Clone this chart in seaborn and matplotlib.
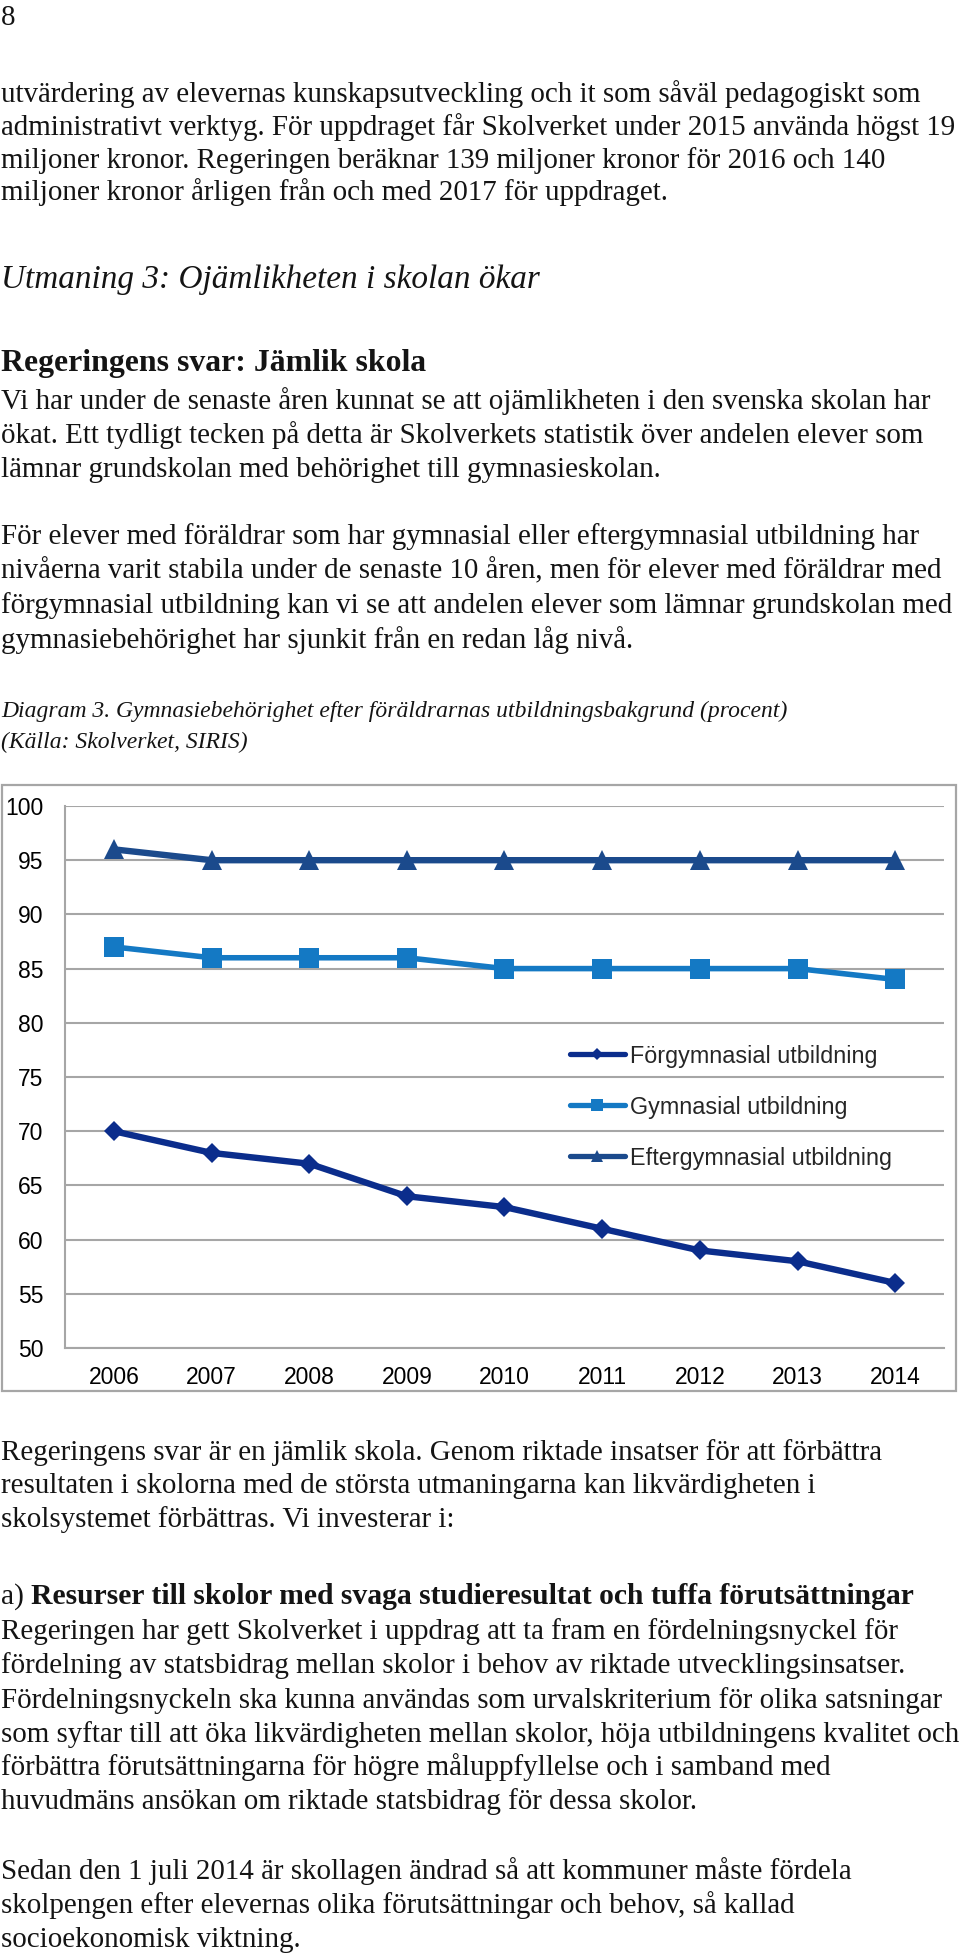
import numpy as np
import pandas as pd
import matplotlib
matplotlib.use("Agg")
import matplotlib.pyplot as plt
import seaborn as sns
from matplotlib.lines import Line2D
from matplotlib.patches import Rectangle

# --- chart data ---
years = ["2006", "2007", "2008", "2009", "2010", "2011", "2012", "2013", "2014"]
forgymnasial = [70, 68, 67, 64, 63, 61, 59, 58, 56]
gymnasial = [87, 86, 86, 86, 85, 85, 85, 85, 84]
eftergymnasial = [96, 95, 95, 95, 95, 95, 95, 95, 95]
series_names = ["Förgymnasial utbildning", "Gymnasial utbildning", "Eftergymnasial utbildning"]
y_ticks = [50, 55, 60, 65, 70, 75, 80, 85, 90, 95, 100]

# --- page text ---
page_number = "8"
para_top = [
    "utvärdering av elevernas kunskapsutveckling och it som såväl pedagogiskt som",
    "administrativt verktyg. För uppdraget får Skolverket under 2015 använda högst 19",
    "miljoner kronor. Regeringen beräknar 139 miljoner kronor för 2016 och 140",
    "miljoner kronor årligen från och med 2017 för uppdraget.",
]
challenge_heading = "Utmaning 3: Ojämlikheten i skolan ökar"
answer_heading = "Regeringens svar: Jämlik skola"
para_answer = [
    "Vi har under de senaste åren kunnat se att ojämlikheten i den svenska skolan har",
    "ökat. Ett tydligt tecken på detta är Skolverkets statistik över andelen elever som",
    "lämnar grundskolan med behörighet till gymnasieskolan.",
]
para_levels = [
    "För elever med föräldrar som har gymnasial eller eftergymnasial utbildning har",
    "nivåerna varit stabila under de senaste 10 åren, men för elever med föräldrar med",
    "förgymnasial utbildning kan vi se att andelen elever som lämnar grundskolan med",
    "gymnasiebehörighet har sjunkit från en redan låg nivå.",
]
caption = [
    "Diagram 3. Gymnasiebehörighet efter föräldrarnas utbildningsbakgrund (procent)",
    "(Källa: Skolverket, SIRIS)",
]
para_after = [
    "Regeringens svar är en jämlik skola. Genom riktade insatser för att förbättra",
    "resultaten i skolorna med de största utmaningarna kan likvärdigheten i",
    "skolsystemet förbättras. Vi investerar i:",
]
item_prefix = "a) "
item_heading = "Resurser till skolor med svaga studieresultat och tuffa förutsättningar"
para_item = [
    "Regeringen har gett Skolverket i uppdrag att ta fram en fördelningsnyckel för",
    "fördelning av statsbidrag mellan skolor i behov av riktade utvecklingsinsatser.",
    "Fördelningsnyckeln ska kunna användas som urvalskriterium för olika satsningar",
    "som syftar till att öka likvärdigheten mellan skolor, höja utbildningens kvalitet och",
    "förbättra förutsättningarna för högre måluppfyllelse och i samband med",
    "huvudmäns ansökan om riktade statsbidrag för dessa skolor.",
]
para_last = [
    "Sedan den 1 juli 2014 är skollagen ändrad så att kommuner måste fördela",
    "skolpengen efter elevernas olika förutsättningar och behov, så kallad",
    "socioekonomisk viktning.",
]

W, H = 960, 1960
GRID = "#a6a6a6"
SERIF = ["Liberation Serif", "DejaVu Serif"]
SANS = ["Liberation Sans", "DejaVu Sans"]

sns.set_style("white")
plt.rcParams["font.family"] = SANS

fig = plt.figure(figsize=(W / 100, H / 100), dpi=100)
renderer = fig.canvas.get_renderer()


def fx(x):
    return x / W


def fy(y):
    return 1 - y / H


def text_width(s, **kw):
    t = fig.text(0, 0, s, **kw)
    w = t.get_window_extent(renderer).width
    t.remove()
    return w


def fit_size(s, target, **kw):
    return 20 * target / text_width(s, size=20, family=SERIF, **kw)


def put(s, y, size, x=1, **kw):
    fig.text(fx(x), fy(y), s, size=size, family=SERIF, color="#141414",
             ha="left", va="baseline", **kw)


body = fit_size(para_top[1], 955)
italic_h = fit_size(challenge_heading, 538, style="italic")
bold_h = fit_size(answer_heading, 424, weight="bold")
cap_size = fit_size(caption[0], 782, style="italic")
item_size = 20 * 913 / (text_width(item_prefix, size=20, family=SERIF)
                        + text_width(item_heading, size=20, family=SERIF, weight="bold"))

# --- text above the chart ---
put(page_number, 25, body)
for line, y in zip(para_top, [102, 135, 168, 200]):
    put(line, y, body)
put(challenge_heading, 288, italic_h, style="italic")
put(answer_heading, 371, bold_h, weight="bold")
for line, y in zip(para_answer, [409, 443, 477]):
    put(line, y, body)
for line, y in zip(para_levels, [544, 578, 613, 648]):
    put(line, y, body)
for line, y in zip(caption, [717, 748]):
    put(line, y, cap_size, style="italic")

# --- chart ---
fig.patches.append(Rectangle((fx(2), fy(1391)), fx(954), (1391 - 785) / H,
                             transform=fig.transFigure, fill=False,
                             edgecolor=GRID, linewidth=1.6))
ax = fig.add_axes([fx(65), fy(1348), fx(879), (1348 - 806) / H])

styles = {
    "Förgymnasial utbildning": dict(color="#0b2d8c", marker="D", ms=10.5, lw=4.6),
    "Gymnasial utbildning": dict(color="#1479c4", marker="s", ms=14.0, lw=4.0),
    "Eftergymnasial utbildning": dict(color="#1b4a8c", marker="^", ms=14.5, lw=4.6),
}
for name, vals in zip(series_names, [forgymnasial, gymnasial, eftergymnasial]):
    st = styles[name]
    sub = pd.DataFrame({"year": years, "value": vals})
    sns.pointplot(data=sub, x="year", y="value", color=st["color"],
                  markers=st["marker"], markersize=st["ms"], linewidth=st["lw"],
                  markeredgewidth=0, errorbar=None, ax=ax)

ax.set_ylim(50, 100)
ax.set_yticks(y_ticks)
ax.set_xlim(-0.5, len(years) - 0.5)
ax.set_xlabel("")
ax.set_ylabel("")
ax.grid(axis="y", color=GRID, linewidth=1.5)
ax.grid(axis="x", visible=False)
ax.set_axisbelow(True)
for side in ["top", "right"]:
    ax.spines[side].set_visible(False)
for side in ["left", "bottom"]:
    ax.spines[side].set_color(GRID)
    ax.spines[side].set_linewidth(1.5)
ax.set_xticks(np.arange(-0.5, len(years)), minor=True)
ax.tick_params(axis="y", length=5, width=1.2, color=GRID, pad=10.5,
               labelsize=16.5, labelcolor="black")
ax.tick_params(axis="x", which="major", length=0, pad=13, labelsize=16.5,
               labelcolor="black")
ax.tick_params(axis="x", which="minor", length=4, width=1.2, color=GRID)

handles = [Line2D([], [], color=styles[n]["color"], marker=styles[n]["marker"],
                  markersize=styles[n]["ms"] * 0.62, linewidth=3.8,
                  markeredgewidth=0) for n in series_names]
ax.legend(handles, series_names, loc="center left",
          bbox_to_anchor=(fx(570), fy(1107)), bbox_transform=fig.transFigure,
          frameon=False, fontsize=16.8, handlelength=2.35, handletextpad=0.2,
          labelspacing=1.2, borderpad=0, borderaxespad=0)

# --- text below the chart ---
for line, y in zip(para_after, [1460, 1493, 1527]):
    put(line, y, body)
put(item_prefix, 1604, item_size)
put(item_heading, 1604, item_size, weight="bold",
    x=1 + text_width(item_prefix, size=item_size, family=SERIF))
for line, y in zip(para_item, [1639, 1673, 1708, 1742, 1775, 1809]):
    put(line, y, body)
for line, y in zip(para_last, [1879, 1913, 1947]):
    put(line, y, body)

fig.savefig("out.png", dpi=100)
